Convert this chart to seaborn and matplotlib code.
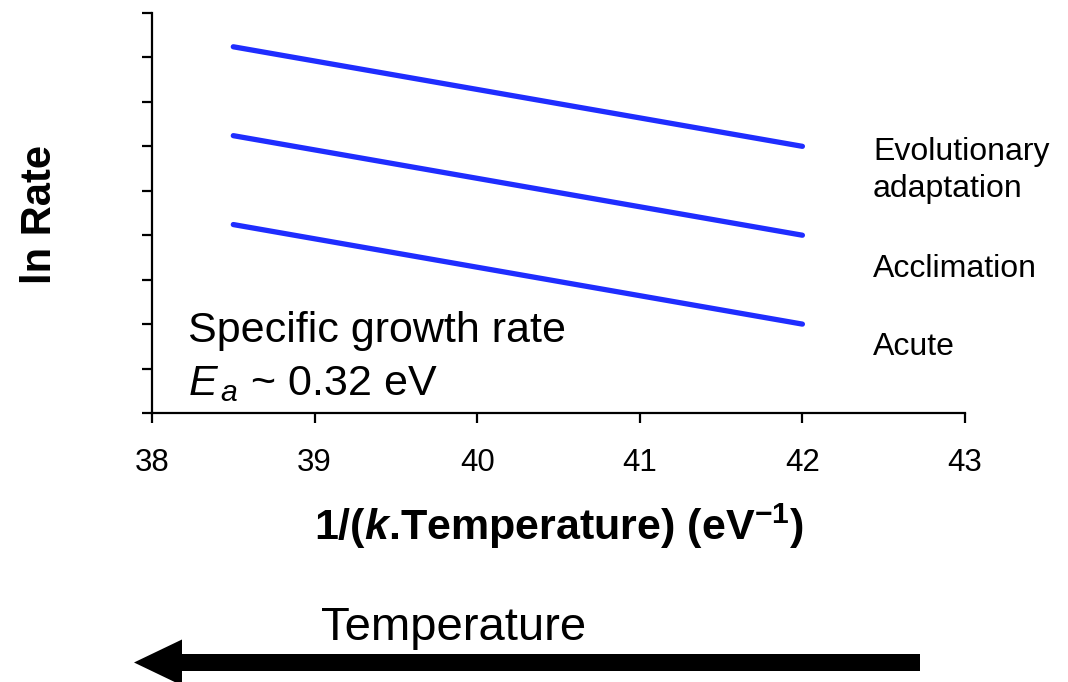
import matplotlib
matplotlib.use("Agg")
import matplotlib.pyplot as plt
from matplotlib.patches import FancyArrow
import numpy as np
import pandas as pd
import seaborn as sns

# Arrhenius-style rate lines for three response time scales
inv_kT = [38.5, 42.0]
evolutionary = [4.12, 3.0]
acclimation = [3.12, 2.0]
acute = [2.12, 1.0]
regimes = ["Evolutionary adaptation", "Acclimation", "Acute"]
x_ticks = [38, 39, 40, 41, 42, 43]

sns.set_theme(style="ticks")
plt.rcParams["font.family"] = ["Liberation Sans", "DejaVu Sans"]
plt.rcParams["text.color"] = "black"
plt.rcParams["axes.labelcolor"] = "black"
plt.rcParams["xtick.color"] = "black"
plt.rcParams["ytick.color"] = "black"
plt.rcParams["mathtext.fontset"] = "custom"
plt.rcParams["mathtext.rm"] = "Liberation Sans"
plt.rcParams["mathtext.it"] = "Liberation Sans:italic"
plt.rcParams["mathtext.bf"] = "Liberation Sans:bold"
plt.rcParams["mathtext.bfit"] = "Liberation Sans:bold:italic"

df = pd.DataFrame({
    "x": inv_kT * 3,
    "y": evolutionary + acclimation + acute,
    "regime": [r for r in regimes for _ in inv_kT],
})

W, H = 1068, 682
fig = plt.figure(figsize=(W / 100, H / 100), dpi=100)
ax = fig.add_axes([152 / W, 1 - 413 / H, (965 - 152) / W, (413 - 13) / H])

sns.lineplot(data=df, x="x", y="y", hue="regime", palette=["#1f2dff"] * 3,
             linewidth=3.8, legend=False, ax=ax)

ax.set_xlim(38, 43)
ax.set_ylim(0, 4.5)
ax.set_xticks(x_ticks)
ax.set_xticklabels([str(t) for t in x_ticks])
ax.set_yticks(np.arange(0, 4.51, 0.5))
ax.set_yticklabels([])
sns.despine(ax=ax)
for s in ("left", "bottom"):
    ax.spines[s].set_linewidth(1.6)
    ax.spines[s].set_color("black")
ax.tick_params(axis="both", direction="out", length=7.5, width=1.6)
ax.tick_params(axis="x", labelsize=22.5, pad=18)

ax.set_xlabel(r"1/($\mathbfit{k}$.Temperature) (eV$^{\mathbf{-1}}$)",
              fontsize=31, fontweight="bold", va="baseline")
ax.xaxis.set_label_coords((559 - 152) / 813, (413 - 540) / 400)
ax.set_ylabel("ln Rate", fontsize=30, fontweight="bold")
ax.yaxis.set_label_coords((60 - 152) / 813, (413 - 215) / 400)


def fig_text(px, py, s, **kw):
    """Place text at pixel position (px, py) measured from the top-left."""
    return fig.text(px / W, 1 - py / H, s, va="baseline", **kw)


# labels to the right of the line ends
for t, py in zip(["Evolutionary", "adaptation", "Acclimation", "Acute"],
                 [160, 197, 277, 355]):
    fig_text(873, py, t, fontsize=23, ha="left")

fig_text(188, 342, "Specific growth rate", fontsize=31, ha="left")
fig_text(188, 395, r"$E_{\,a}$ ~ 0.32 eV", fontsize=31, ha="left")

# direction of increasing temperature
arrow = FancyArrow(9.20, 0.195, -(9.20 - 1.34), 0, width=0.17, head_width=0.46,
                   head_length=0.48, length_includes_head=True, color="black",
                   linewidth=0, transform=fig.dpi_scale_trans)
fig.add_artist(arrow)
fig_text(453.5, 640, "Temperature", fontsize=34, ha="center")

fig.savefig("out.png", dpi=100)
